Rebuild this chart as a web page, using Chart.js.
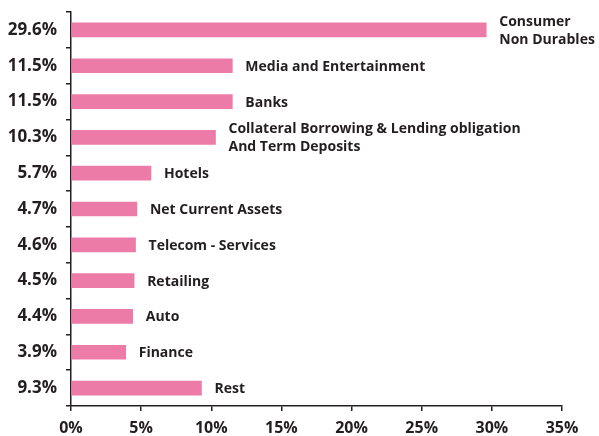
<!DOCTYPE html>
<html>
<head>
<meta charset="utf-8">
<script src="https://cdn.jsdelivr.net/npm/chart.js@4"></script>
<style>
  body { margin: 0; background: #fff; }
  #wrap { width: 599px; height: 436px; position: relative; }
</style>
</head>
<body>
<div id="wrap"><canvas id="miGrafico"></canvas></div>
<script>
    const categorias = [
      ['Consumer', 'Non Durables'],
      ['Media and Entertainment'],
      ['Banks'],
      ['Collateral Borrowing & Lending obligation', 'And Term Deposits'],
      ['Hotels'],
      ['Net Current Assets'],
      ['Telecom - Services'],
      ['Retailing'],
      ['Auto'],
      ['Finance'],
      ['Rest']
    ];
    const valores = [29.6, 11.5, 11.5, 10.3, 5.7, 4.7, 4.6, 4.5, 4.4, 3.9, 9.3];
    const etiquetas = ['29.6%', '11.5%', '11.5%', '10.3%', '5.7%', '4.7%', '4.6%', '4.5%', '4.4%', '3.9%', '9.3%'];
    const ticksX = [0, 5, 10, 15, 20, 25, 30, 35];

    const colorTexto = '#231f20';
    const fuente = '"Open Sans", sans-serif';

    // nombres de categoria a la derecha de cada barra
    const nombres = {
      id: 'nombres',
      afterDatasetsDraw(chart) {
        const c = chart.ctx;
        const meta = chart.getDatasetMeta(0);
        c.save();
        c.fillStyle = colorTexto;
        c.font = 'bold 14px ' + fuente;
        c.textAlign = 'left';
        c.textBaseline = 'middle';
        meta.data.forEach((bar, i) => {
          const lineas = categorias[i];
          const alto = 18;
          const y0 = bar.y + 1 - (lineas.length - 1) * alto / 2;
          lineas.forEach((t, j) => c.fillText(t, bar.x + 13, y0 + j * alto));
        });
        c.restore();
      }
    };

    const ctx = document.getElementById('miGrafico').getContext('2d');
    const miGrafico = new Chart(ctx, {
      type: 'bar',
      data: {
        labels: etiquetas,
        datasets: [{
          data: valores,
          backgroundColor: '#ec7ba8',
          barThickness: 14
        }]
      },
      options: {
        indexAxis: 'y',
        responsive: true,
        maintainAspectRatio: false,
        animation: false,
        layout: { padding: { top: 12, right: 37, left: 0, bottom: 0 } },
        plugins: {
          legend: { display: false },
          tooltip: { enabled: false }
        },
        scales: {
          x: {
            min: 0,
            max: 35,
            afterBuildTicks(axis) { axis.ticks = ticksX.map(v => ({ value: v })); },
            afterFit(axis) { axis.height = 30; },
            grid: { drawOnChartArea: false, color: '#231f20', tickLength: 5, lineWidth: 1.5 },
            border: { color: '#231f20', width: 1.5 },
            ticks: {
              color: colorTexto,
              font: { family: fuente, size: 16, weight: 'bold' },
              padding: 8,
              maxRotation: 0,
              callback: v => v + '%'
            }
          },
          y: {
            offset: true,
            afterFit(axis) {
              axis.width = 71;
              axis.paddingTop = 0;
              axis.paddingBottom = 0;
            },
            grid: { drawOnChartArea: false, offset: true, color: '#231f20', tickLength: 5, lineWidth: 1.5 },
            border: { color: '#231f20', width: 1.5 },
            ticks: {
              color: colorTexto,
              font: { family: fuente, size: 17, weight: 'bold' },
              padding: 9
            }
          }
        }
      },
      plugins: [nombres]
    });
</script>
</body>
</html>
